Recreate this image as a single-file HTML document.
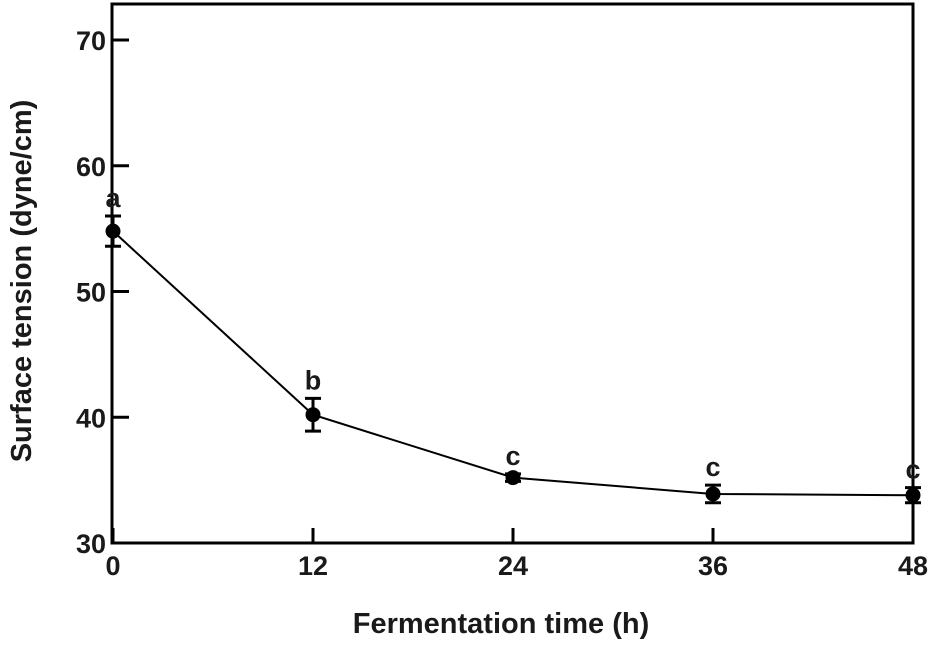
<!DOCTYPE html>
<html><head><meta charset="utf-8"><style>
html,body{margin:0;padding:0;background:#fff;}
svg text{font-family:"Liberation Sans",Arial,sans-serif;font-weight:bold;fill:#1a1a1a;}
</style></head><body>
<svg id="chart" width="932" height="642" viewBox="0 0 932 642" xmlns="http://www.w3.org/2000/svg">
<rect x="112" y="4" width="801" height="539" fill="none" stroke="#000" stroke-width="3"/>
<g id="axes"></g>
<g id="series"></g>
<text x="501" y="633" font-size="29" text-anchor="middle">Fermentation time (h)</text>
<text transform="translate(31,281) rotate(-90)" font-size="29" text-anchor="middle">Surface tension (dyne/cm)</text>
</svg>
<script>
const xTicks=[0,12,24,36,48];
const yTicks=[30,40,50,60,70];
const times=[0,12,24,36,48];
const values=[54.8,40.2,35.2,33.9,33.8];
const errors=[1.2,1.3,0.3,0.7,0.6];
const letters=["a","b","c","c","c"];
const X0=113,X1=913,Y0=543,Y1=40;
function xs(v){return X0+(v-0)/(48-0)*(X1-X0);}
function ys(v){return Y0-(v-30)/(70-30)*(Y0-Y1);}
const NS="http://www.w3.org/2000/svg";
function mk(tag,attrs,parent){const e=document.createElementNS(NS,tag);for(const k in attrs)e.setAttribute(k,attrs[k]);parent.appendChild(e);return e;}
const axes=document.getElementById('axes'),ser=document.getElementById('series');
xTicks.forEach(t=>{
 const l=mk('line',{x1:xs(t),x2:xs(t),y1:Y0,y2:Y0-15,stroke:'#000','stroke-width':3},axes);
 
 
 const tx=mk('text',{x:xs(t),y:575,'font-size':27,'text-anchor':'middle'},axes);
 tx.textContent=t;
 
 
});
yTicks.forEach(t=>{
 const l=mk('line',{x1:X0,x2:X0+16,y1:ys(t),y2:ys(t),stroke:'#000','stroke-width':3},axes);
 
 
 const tx=mk('text',{x:106,y:ys(t)+10,'font-size':27,'text-anchor':'end'},axes);
 tx.textContent=t;
 
 
});
const pl=mk('polyline',{points:times.map((t,i)=>xs(t)+','+ys(values[i])).join(' '),fill:'none',stroke:'#000','stroke-width':2},ser);


times.forEach((t,i)=>{
 const x=xs(t),yt=ys(values[i]+errors[i]),yb=ys(values[i]-errors[i]);
 const eb=mk('path',{d:`M${x},${yt}V${yb}M${x-8},${yt}H${x+8}M${x-8},${yb}H${x+8}`,stroke:'#000','stroke-width':3,fill:'none'},ser);
 
 
 const c=mk('circle',{cx:x,cy:ys(values[i]),r:7.5,fill:'#000'},ser);
 
 
 const lt=mk('text',{x:x,y:yt-9,'font-size':27,'text-anchor':'middle','font-weight':'normal'},ser);
 lt.textContent=letters[i];
 
 
});
</script>
</body></html>
